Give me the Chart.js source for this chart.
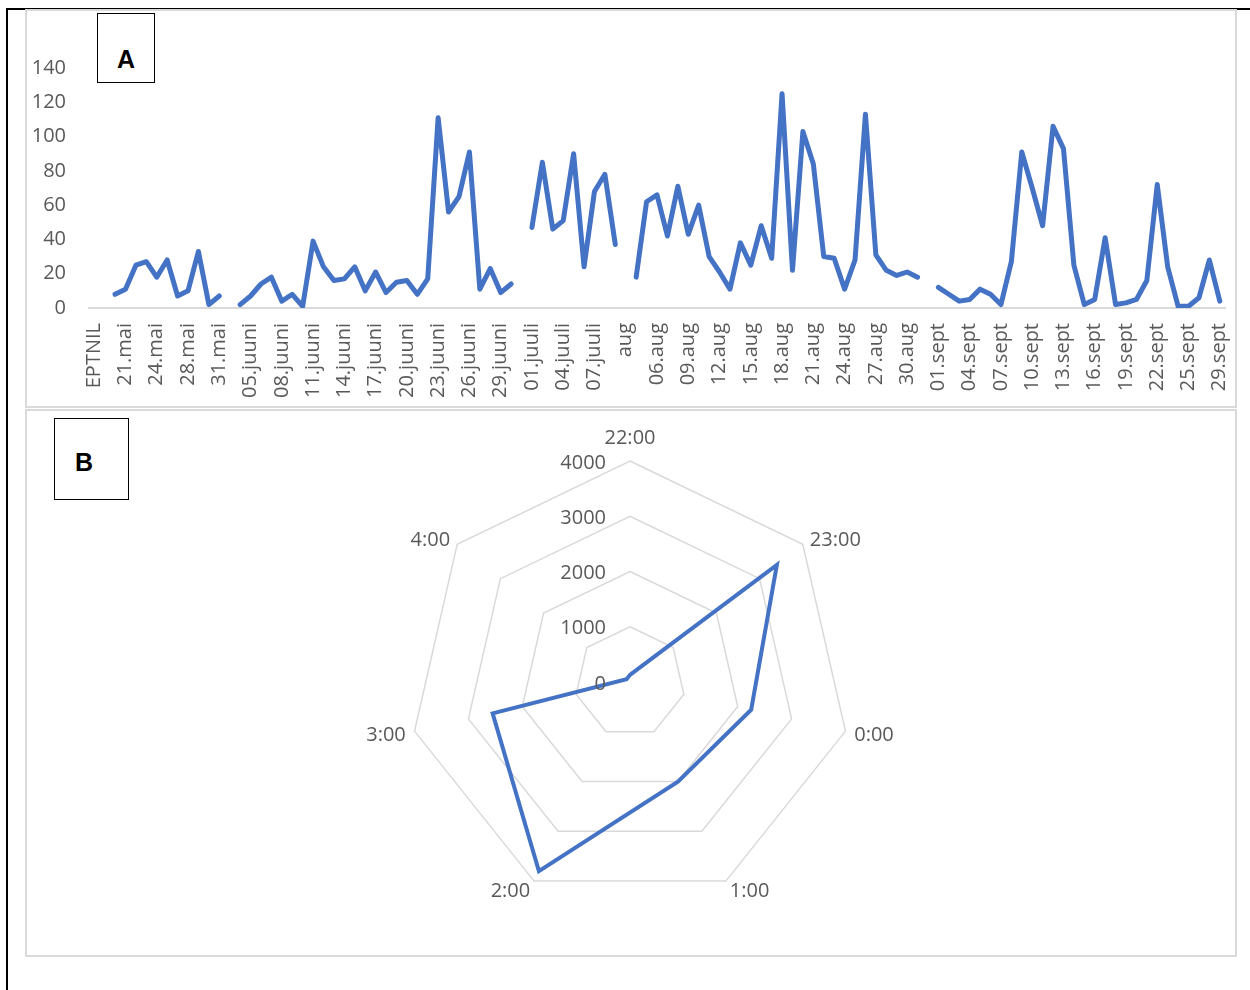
<!DOCTYPE html>
<html>
<head>
<meta charset="utf-8">
<script src="https://cdn.jsdelivr.net/npm/chart.js@4.4.1/dist/chart.umd.min.js"></script>
<style>
  html, body { margin: 0; padding: 0; background: #fff; }
  body { width: 1250px; height: 990px; position: relative; overflow: hidden; font-family: "Open Sans", sans-serif; }
  .frame-top { position: absolute; left: 6px; top: 8px; width: 1244px; height: 2px; background: #000; }
  .frame-left { position: absolute; left: 6px; top: 8px; width: 2px; height: 982px; background: #000; }
  .panel { position: absolute; left: 25px; width: 1212px; border: 2px solid #d9d9d9; box-sizing: border-box; }
  #panelA { top: 9px; height: 399px; }
  #panelB { top: 409px; height: 548px; }
  canvas { position: absolute; }
  #chartA { left: 26px; top: 10px; }
  #chartB { left: 26px; top: 411px; }
  .tag { position: absolute; border: 1px solid #000; box-sizing: border-box; background: #fff; }
  .tag span { position: absolute; width: 40px; text-align: center; font: bold 25px/25px "Liberation Sans", Arial, sans-serif; color: #000; }
  #tagA { left: 97px; top: 13px; width: 58px; height: 70px; }
  #tagA span { left: 8px; top: 33px; }
  #tagB { left: 54px; top: 418px; width: 75px; height: 82px; }
  #tagB span { left: 9px; top: 31px; }
</style>
</head>
<body>
<div class="frame-top"></div>
<div class="frame-left"></div>
<div class="panel" id="panelA"></div>
<div class="panel" id="panelB"></div>
<canvas id="chartA" width="1211" height="397"></canvas>
<canvas id="chartB" width="1211" height="545"></canvas>
<div class="tag" id="tagA"><span>A</span></div>
<div class="tag" id="tagB"><span>B</span></div>

<script>
// ---- Panel A: daily counts ----
const tickLabels = ['EPTNIL', '21.mai', '24.mai', '28.mai', '31.mai',
  '05.juuni', '08.juuni', '11.juuni', '14.juuni', '17.juuni', '20.juuni', '23.juuni', '26.juuni', '29.juuni',
  '01.juuli', '04.juuli', '07.juuli', 'aug',
  '06.aug', '09.aug', '12.aug', '15.aug', '18.aug', '21.aug', '24.aug', '27.aug', '30.aug',
  '01.sept', '04.sept', '07.sept', '10.sept', '13.sept', '16.sept', '19.sept', '22.sept', '25.sept', '29.sept'];

// every third day carries a label, the two in between stay unlabeled
const categories = tickLabels.flatMap((t, k) => k < tickLabels.length - 1 ? [t, '', ''] : [t]);

const dailyCounts = [
  null, null, 8, 11, 25, 27, 18, 28, 7, 10, 33, 2, 7,
  null, 2, 7, 14, 18, 4, 8, 1, 39, 24, 16, 17, 24, 10, 21, 9, 15, 16, 8, 17, 111, 56, 65, 91, 11, 23, 9, 14,
  null, 47, 85, 46, 51, 90, 24, 68, 78, 37,
  null, 18, 62, 66, 42, 71, 43, 60, 30, 21, 11, 38, 25, 48, 29, 125, 22, 103, 84, 30, 29, 11, 28, 113, 31, 22, 19, 21, 18,
  null, 12, 8, 4, 5, 11, 8, 2, 27, 91, 70, 48, 106, 93, 25, 2, 5, 41, 2, 3, 5, 16, 72, 24, 1, 1, 6, 28, 4
];

const yTicks = [0, 20, 40, 60, 80, 100, 120, 140];

// ---- Panel B: totals per hour ----
const hours = ['22:00', '23:00', '0:00', '1:00', '2:00', '3:00', '4:00'];
const hourTotals = [130, 3400, 2250, 2000, 3800, 2550, 80];
const ringTicks = [0, 1000, 2000, 3000, 4000];

const TEXT = '#595959';
const BLUE = '#4472C4';
Chart.defaults.font.family = '"Open Sans", sans-serif';
Chart.defaults.font.size = 20;
Chart.defaults.color = TEXT;

new Chart(document.getElementById('chartA'), {
  type: 'line',
  data: {
    labels: categories,
    datasets: [{
      data: dailyCounts,
      borderColor: BLUE,
      borderWidth: 5,
      pointRadius: 0,
      tension: 0,
      spanGaps: false,
      fill: false,
      borderCapStyle: 'round',
      borderJoinStyle: 'round'
    }]
  },
  options: {
    responsive: false,
    animation: false,
    devicePixelRatio: 1,
    layout: { padding: { top: 58, right: 12, left: 0, bottom: 0 } },
    plugins: { legend: { display: false }, tooltip: { enabled: false } },
    scales: {
      x: {
        offset: true,
        grid: { display: false, drawTicks: false },
        border: { display: true, color: '#d9d9d9', width: 2 },
        ticks: {
          autoSkip: false, maxRotation: 90, minRotation: 90, padding: 15,
          color: TEXT, font: { size: 20 },
          callback: (v, i) => categories[i]
        },
        afterFit: s => { s.height = 99; s.paddingLeft = 0; s.paddingRight = 0; }
      },
      y: {
        min: 0, max: 140,
        grid: { display: false, drawTicks: false },
        border: { display: false },
        ticks: { padding: 23, color: TEXT, font: { size: 20 } },
        afterBuildTicks: s => { s.ticks = yTicks.map(v => ({ value: v })); },
        afterFit: s => { s.width = 63; s.paddingTop = 0; s.paddingBottom = 0; }
      }
    }
  }
});

// Ring values beside the first spoke and hour names outside the outer ring
const radarText = {
  id: 'radarText',
  afterDatasetsDraw(chart) {
    const s = chart.scales.r;
    const ctx = chart.ctx;
    ctx.save();
    ctx.font = '20px "Open Sans", sans-serif';
    ctx.fillStyle = TEXT;
    ctx.textBaseline = 'middle';
    ctx.textAlign = 'right';
    s.ticks.forEach(t => {
      const p = s.getPointPositionForValue(0, t.value);
      ctx.fillText(String(t.value), p.x - 24, p.y + 2);
    });
    chart.data.labels.forEach((lab, i) => {
      const a = s.getIndexAngle(i);
      const p = s.getPointPosition(i, s.drawingArea + 9);
      const sx = Math.sin(a);
      const top = Math.abs(sx) < 0.01;
      ctx.textAlign = top ? 'center' : (sx > 0 ? 'left' : 'right');
      ctx.fillText(lab, p.x, p.y + 2 - (top ? 16 : 0));
    });
    ctx.restore();
  }
};

new Chart(document.getElementById('chartB'), {
  type: 'radar',
  data: {
    labels: hours,
    datasets: [{
      data: hourTotals,
      borderColor: BLUE,
      backgroundColor: 'rgba(0,0,0,0)',
      borderWidth: 4,
      pointRadius: 0,
      fill: false,
      tension: 0
    }]
  },
  options: {
    responsive: false,
    animation: false,
    devicePixelRatio: 1,
    layout: { padding: { top: 50, bottom: 53, left: 0, right: 3 } },
    plugins: { legend: { display: false }, tooltip: { enabled: false } },
    scales: {
      r: {
        min: 0, max: 4000, beginAtZero: true,
        angleLines: { display: false },
        grid: { color: '#d9d9d9', lineWidth: 1.5 },
        pointLabels: { display: false },
        ticks: { display: false },
        afterBuildTicks: s => { s.ticks = ringTicks.map(v => ({ value: v })); }
      }
    }
  },
  plugins: [radarText]
});
</script>
</body>
</html>
